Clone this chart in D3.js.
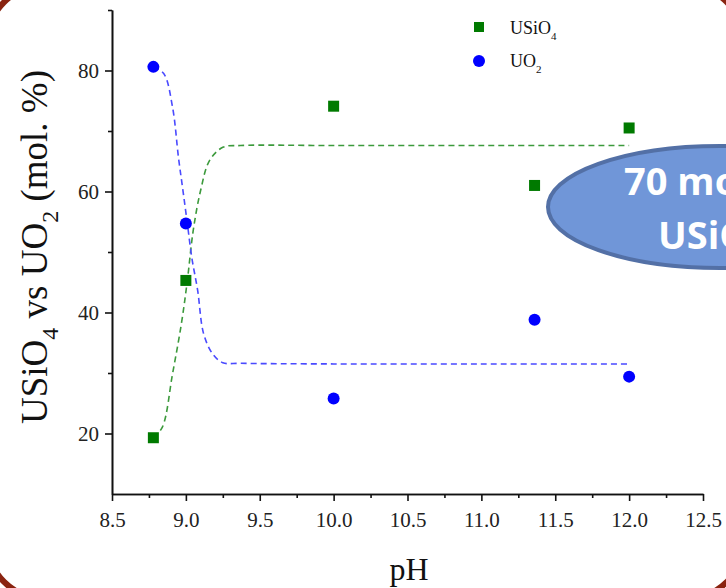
<!DOCTYPE html>
<html lang="en">
<head>
    <meta charset="UTF-8">
    <title>USiO4 vs UO2</title>
    <script src="https://d3js.org/d3.v7.min.js"></script>
    <style>
        body { margin: 0; background: #fff; }
        .axis text {
            font-family: "Liberation Serif", "Times New Roman", serif;
            font-size: 21px;
            fill: #222;
        }
        .axis path, .axis line { stroke: #111; stroke-width: 1.6px; }
        .title {
            font-family: "Liberation Serif", "Times New Roman", serif;
            fill: #111;
        }
    </style>
</head>
<body>
<svg width="726" height="588"></svg>

<script>
    // measured points
    const pH = [8.78, 9.0, 10.0, 11.36, 12.0];
    const usio4 = [19.3, 45.3, 74.1, 61.0, 70.5];
    const uo2 = [80.6, 54.7, 25.8, 38.8, 29.4];

    // fitted curves
    const fitGreenX = [8.78, 8.84, 8.91, 8.97, 9.01, 9.05, 9.10, 9.16, 9.25, 9.37, 10.0, 11.0, 12.0];
    const fitGreenY = [19.3, 21.0, 29.9, 38.2, 45.3, 53.6, 60.2, 65.1, 67.3, 67.6, 67.6, 67.6, 67.6];
    const fitBlueX = [8.78, 8.85, 8.91, 8.95, 8.98, 9.01, 9.04, 9.08, 9.12, 9.18, 9.25, 9.37, 10.0, 11.0, 12.0];
    const fitBlueY = [80.6, 79.5, 73.9, 65.6, 60.2, 54.7, 49.1, 43.6, 36.5, 33.2, 31.7, 31.6, 31.5, 31.5, 31.5];

    const xMajor = [8.5, 9.0, 9.5, 10.0, 10.5, 11.0, 11.5, 12.0, 12.5];
    const xMinor = [8.75, 9.25, 9.75, 10.25, 10.75, 11.25, 11.75, 12.25];
    const yMajor = [20, 40, 60, 80];
    const yMinor = [30, 50, 70, 90];

    const svg = d3.select("svg");

    const x = d3.scaleLinear().domain([8.5, 12.5]).range([112, 703]);
    const y = d3.scaleLinear().domain([10, 90]).range([494, 10]);

    // frame of the slide, mostly outside the picture
    svg.append("rect")
        .attr("x", -12).attr("y", -14)
        .attr("width", 755).attr("height", 612)
        .attr("rx", 55).attr("ry", 55)
        .attr("fill", "none")
        .attr("stroke", "#8a2410")
        .attr("stroke-width", 6);

    // axes
    svg.append("g").attr("class", "axis")
        .attr("transform", "translate(0,494)")
        .call(d3.axisBottom(x).tickValues(xMinor).tickSize(4).tickSizeOuter(0).tickFormat(""));
    svg.append("g").attr("class", "axis")
        .attr("transform", "translate(0,494)")
        .call(d3.axisBottom(x).tickValues(xMajor).tickSize(7).tickSizeOuter(0).tickPadding(11).tickFormat(d3.format(".1f")));

    svg.append("g").attr("class", "axis")
        .attr("transform", "translate(112,0)")
        .call(d3.axisLeft(y).tickValues(yMinor).tickSize(4).tickSizeOuter(0).tickFormat(""));
    svg.append("g").attr("class", "axis")
        .attr("transform", "translate(112,0)")
        .call(d3.axisLeft(y).tickValues(yMajor).tickSize(7).tickSizeOuter(0).tickPadding(6));

    // fitted lines
    const line = d3.line().x(d => x(d[0])).y(d => y(d[1])).curve(d3.curveCatmullRom.alpha(0.5));
    svg.append("path")
        .datum(d3.zip(fitGreenX, fitGreenY))
        .attr("d", line)
        .attr("fill", "none")
        .attr("stroke", "#3c9a3c")
        .attr("stroke-width", 1.6)
        .attr("stroke-dasharray", "6,4");
    svg.append("path")
        .datum(d3.zip(fitBlueX, fitBlueY))
        .attr("d", line)
        .attr("fill", "none")
        .attr("stroke", "#4a4aff")
        .attr("stroke-width", 1.6)
        .attr("stroke-dasharray", "6,4");

    // points
    svg.append("g").selectAll("rect")
        .data(d3.zip(pH, usio4))
        .join("rect")
        .attr("x", d => x(d[0]) - 5.5)
        .attr("y", d => y(d[1]) - 5.5)
        .attr("width", 11).attr("height", 11)
        .attr("fill", "#007a00");
    svg.append("g").selectAll("circle")
        .data(d3.zip(pH, uo2))
        .join("circle")
        .attr("cx", d => x(d[0]))
        .attr("cy", d => y(d[1]))
        .attr("r", 6)
        .attr("fill", "#0000ff");

    // legend
    svg.append("rect").attr("x", 474).attr("y", 22).attr("width", 10).attr("height", 10).attr("fill", "#007a00");
    svg.append("circle").attr("cx", 479).attr("cy", 61).attr("r", 6).attr("fill", "#0000ff");
    const lg1 = svg.append("text").attr("class", "title").attr("x", 510).attr("y", 34).style("font-size", "18px");
    lg1.append("tspan").text("USiO");
    lg1.append("tspan").attr("dy", 6).style("font-size", "11px").text("4");
    const lg2 = svg.append("text").attr("class", "title").attr("x", 510).attr("y", 67).style("font-size", "18px");
    lg2.append("tspan").text("UO");
    lg2.append("tspan").attr("dy", 6).style("font-size", "11px").text("2");

    // axis titles
    svg.append("text").attr("class", "title")
        .attr("x", 409).attr("y", 580)
        .attr("text-anchor", "middle")
        .style("font-size", "32px")
        .text("pH");

    const yt = svg.append("text").attr("class", "title")
        .attr("transform", "translate(47,247) rotate(-90)")
        .attr("text-anchor", "middle")
        .style("font-size", "37px");
    yt.append("tspan").text("USiO");
    yt.append("tspan").attr("dy", 11).style("font-size", "24px").text("4");
    yt.append("tspan").attr("dy", -11).text(" vs UO");
    yt.append("tspan").attr("dy", 11).style("font-size", "24px").text("2");
    yt.append("tspan").attr("dy", -11).text(" (mol. %)");

    // callout
    svg.append("ellipse")
        .attr("cx", 720).attr("cy", 207)
        .attr("rx", 172).attr("ry", 61)
        .attr("fill", "#7096d8")
        .attr("stroke", "#5370a6")
        .attr("stroke-width", 4);
    svg.append("text")
        .attr("x", 624).attr("y", 195)
        .style("font-family", "'Open Sans', sans-serif")
        .style("font-weight", "bold")
        .style("font-size", "38px")
        .attr("fill", "#fff")
        .text("70 mol. %");
    const ct = svg.append("text")
        .attr("x", 658).attr("y", 249)
        .style("font-family", "'Open Sans', sans-serif")
        .style("font-weight", "bold")
        .style("font-size", "38px")
        .attr("fill", "#fff");
    ct.append("tspan").text("USiO");
    ct.append("tspan").attr("dy", 8).style("font-size", "24px").text("4");
</script>
</body>
</html>
